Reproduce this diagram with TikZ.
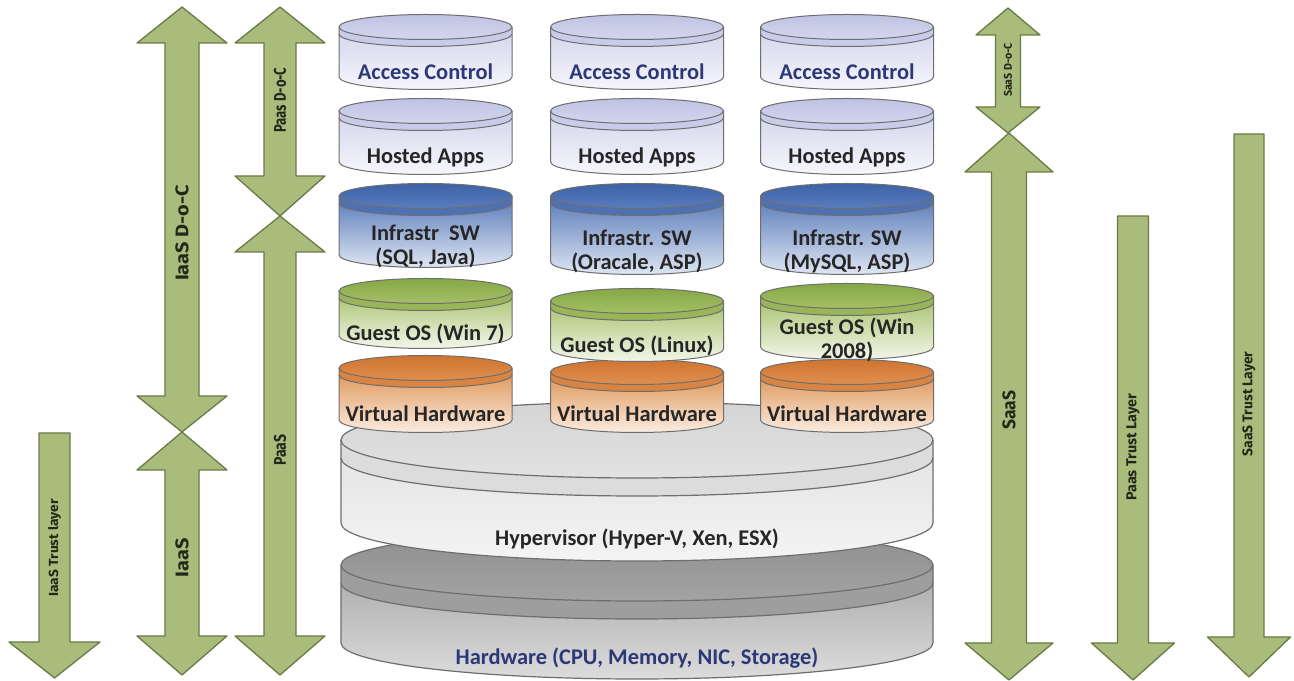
\documentclass[tikz,border=0pt]{standalone}
\usepackage{fontspec}
\usepackage{graphicx}
\setmainfont{Carlito}
\newfontfamily\arrowfont{Fira Sans}

% drum colours: F = top face, R = rim band, B = body
\definecolor{acF1}{HTML}{BFC3E3}\definecolor{acF2}{HTML}{D3D6EE}
\definecolor{acR}{HTML}{C9CCE8}\definecolor{acB1}{HTML}{D2D5EC}\definecolor{acB2}{HTML}{F6F6FB}
\definecolor{isF1}{HTML}{3C62A6}\definecolor{isF2}{HTML}{5A7DBD}
\definecolor{isR}{HTML}{4D71B3}\definecolor{isB1}{HTML}{5779B8}\definecolor{isB2}{HTML}{DFE6F3}
\definecolor{goF1}{HTML}{86A746}\definecolor{goF2}{HTML}{A4C065}
\definecolor{goR}{HTML}{98B558}\definecolor{goB1}{HTML}{A6C16A}\definecolor{goB2}{HTML}{F3F6EA}
\definecolor{vhF1}{HTML}{CF7430}\definecolor{vhF2}{HTML}{E08F4E}
\definecolor{vhR}{HTML}{D98442}\definecolor{vhB1}{HTML}{DE9252}\definecolor{vhB2}{HTML}{FBECE0}
\definecolor{hyF1}{HTML}{D4D4D4}\definecolor{hyF2}{HTML}{E2E2E2}
\definecolor{hyR}{HTML}{DCDCDC}\definecolor{hyB1}{HTML}{E2E2E2}\definecolor{hyB2}{HTML}{F4F4F4}
\definecolor{hwF1}{HTML}{8E8E8E}\definecolor{hwF2}{HTML}{A3A3A3}
\definecolor{hwR}{HTML}{9E9E9E}\definecolor{hwB1}{HTML}{A8A8A8}\definecolor{hwB2}{HTML}{DCDCDC}
\definecolor{drumedge}{HTML}{6E6E6E}
\definecolor{navytext}{HTML}{2C3878}
\definecolor{darktext}{HTML}{262626}
\definecolor{arrowgreen}{HTML}{A9BC7B}
\definecolor{arrowedge}{HTML}{6A7A45}
\definecolor{labeltext}{HTML}{24281A}

\tikzset{
  drumline/.style={draw=drumedge},
  greenarrow/.style={fill=arrowgreen, draw=arrowedge, line width=1.3bp, line join=round},
  drumtext/.style={font=\fontsize{22.5}{24}\selectfont\bfseries, text=darktext, inner sep=0pt, anchor=base},
  arlabel/.style={rotate=90, inner sep=0pt, text=labeltext, font=\arrowfont\bfseries},
}

% a drum: #1 colour prefix, #2 centre x, #3 top-face centre y, #4 bottom centre y
% (y measured from the top edge), #5 x radius, #6 y radius, #7 rim gap, #8 line width
\newcommand\drum[8]{%
  \pgfmathsetmacro\dT{681-#3}%
  \pgfmathsetmacro\dB{681-#4}%
  \pgfmathsetmacro\dL{#2-#5}%
  \pgfmathsetmacro\dR{#2+#5}%
  \pgfmathsetmacro\dM{681-#3-#7}%
  \path[top color=#1B1, bottom color=#1B2] (\dL,\dT) -- (\dL,\dB)
     arc[start angle=180, end angle=360, x radius=#5, y radius=#6] -- (\dR,\dT) -- cycle;
  \path[fill=#1R] (\dL,\dT) -- (\dL,\dM)
     arc[start angle=180, end angle=360, x radius=#5, y radius=#6] -- (\dR,\dT) -- cycle;
  \path[top color=#1F1, bottom color=#1F2] (#2,\dT) ellipse[x radius=#5, y radius=#6];
  \draw[drumline, line width=#8] (\dL,\dT) -- (\dL,\dB)
     arc[start angle=180, end angle=360, x radius=#5, y radius=#6] -- (\dR,\dT);
  \draw[drumline, line width=#8] (#2,\dT) ellipse[x radius=#5, y radius=#6];
  \draw[drumline, line width=#8] (\dL,\dM)
     arc[start angle=180, end angle=360, x radius=#5, y radius=#6];
}

% double-headed arrow: #1 centre x, #2 upper tip, #3 upper head base,
% #4 lower head base, #5 lower tip, #6 shaft half width, #7 head half width
\newcommand\dblarr[7]{%
  \pgfmathsetmacro\aA{681-#2}\pgfmathsetmacro\aB{681-#3}%
  \pgfmathsetmacro\aC{681-#4}\pgfmathsetmacro\aD{681-#5}%
  \pgfmathsetmacro\aL{#1-#6}\pgfmathsetmacro\aR{#1+#6}%
  \pgfmathsetmacro\aLL{#1-#7}\pgfmathsetmacro\aRR{#1+#7}%
  \draw[greenarrow] (#1,\aA) -- (\aRR,\aB) -- (\aR,\aB) -- (\aR,\aC) -- (\aRR,\aC)
     -- (#1,\aD) -- (\aLL,\aC) -- (\aL,\aC) -- (\aL,\aB) -- (\aLL,\aB) -- cycle;
}
% downward arrow: #1 centre x, #2 shaft top, #3 head base, #4 tip,
% #5 shaft half width, #6 head half width
\newcommand\dnarr[6]{%
  \pgfmathsetmacro\aA{681-#2}\pgfmathsetmacro\aB{681-#3}\pgfmathsetmacro\aC{681-#4}%
  \pgfmathsetmacro\aL{#1-#5}\pgfmathsetmacro\aR{#1+#5}%
  \pgfmathsetmacro\aLL{#1-#6}\pgfmathsetmacro\aRR{#1+#6}%
  \draw[greenarrow] (\aL,\aA) -- (\aR,\aA) -- (\aR,\aB) -- (\aRR,\aB) -- (#1,\aC)
     -- (\aLL,\aB) -- (\aL,\aB) -- cycle;
}
\newcommand\arfit[3]{\resizebox{#1bp}{#2bp}{#3}}

\begin{document}
\begin{tikzpicture}[x=1bp, y=1bp]
\useasboundingbox[fill=white] (0,0) rectangle (1294,681);

% ---- green scope arrows, left side
\dnarr{54.5}{433}{642}{678}{15.5}{45.5}
\dblarr{182}{7}{43}{396}{432}{17}{45}
\dblarr{182}{432}{470}{636}{675}{17}{45}
\dblarr{280}{7}{43}{176}{216}{16}{45}
\dblarr{280}{216}{252}{636}{675}{16}{45}

% ---- green scope arrows, right side
\dblarr{1008}{8}{35}{107}{133}{12.5}{32}
\dblarr{1009}{133}{172}{643}{680}{17.5}{44}
\dnarr{1133}{216}{643}{680}{15.5}{41.5}
\dnarr{1249}{134}{637}{677}{15}{41.5}

\node[arlabel] (lIaaSTrust) at (54.5,681-548) {\arfit{97}{10}{IaaS Trust layer}};
\node[arlabel] (lIaaSDoC)   at (182,681-233)  {\arfit{96}{13}{IaaS D-o-C}};
\node[arlabel] (lIaaS)      at (182,681-558)  {\arfit{39}{13}{IaaS}};
\node[arlabel] (lPaasDoC)   at (280,681-100)  {\arfit{65}{12}{Paas D-o-C}};
\node[arlabel] (lPaaS)      at (280,681-450)  {\arfit{31}{12}{PaaS}};
\node[arlabel] (lSaaSDoC)   at (1008,681-70)  {\arfit{54}{8}{SaaS D-o-C}};
\node[arlabel] (lSaaS)      at (1009,681-410) {\arfit{39}{13}{SaaS}};
\node[arlabel] (lPaasTrust) at (1133,681-447) {\arfit{107}{10}{Paas Trust Layer}};
\node[arlabel] (lSaaSTrust) at (1249,681-404) {\arfit{105}{10}{SaaS Trust Layer}};

% ---- physical layers
\drum{hw}{637}{565}{643}{296}{36}{18}{1.2bp}
\drum{hy}{637}{440}{523}{296}{38}{18}{1.2bp}

% ---- virtual machine stacks, bottom layer first
\drum{vh}{425.5}{368}{420}{86.5}{12.5}{7}{1bp}
\drum{vh}{637}{372}{420}{86.5}{12.5}{7}{1bp}
\drum{vh}{847}{372}{420}{86.5}{12.5}{7}{1bp}
\drum{go}{425.5}{291}{336}{86.5}{12.5}{7}{1bp}
\drum{go}{637}{301}{349}{86.5}{12.5}{7}{1bp}
\drum{go}{847}{296}{347}{86.5}{12.5}{7}{1bp}
\drum{is}{425.5}{196}{255}{86.5}{12.5}{7}{1bp}
\drum{is}{637}{196}{262}{86.5}{12.5}{7}{1bp}
\drum{is}{847}{196}{262}{86.5}{12.5}{7}{1bp}
\foreach \cx in {425.5,637,847}{
  \drum{ac}{\cx}{111}{162}{86.5}{12.5}{7}{1bp}
  \drum{ac}{\cx}{27}{77}{86.5}{12.5}{7}{1bp}
}

% ---- layer captions
\node[drumtext, text=navytext] (ac1) at (425.5,681-79.5) {Access Control};
\node[drumtext, text=navytext] (ac2) at (637,681-79.5)   {Access Control};
\node[drumtext, text=navytext] (ac3) at (847,681-79.5)   {Access Control};
\node[drumtext] (ha1) at (425.5,681-163.5) {Hosted Apps};
\node[drumtext] (ha2) at (637,681-163.5)   {Hosted Apps};
\node[drumtext] (ha3) at (847,681-163.5)   {Hosted Apps};
\node[drumtext] (is1a) at (425.5,681-241) {Infrastr\ \ SW};
\node[drumtext] (is1b) at (425.5,681-265) {(SQL, Java)};
\node[drumtext] (is2a) at (637,681-246)   {Infrastr. SW};
\node[drumtext] (is2b) at (637,681-270)   {(Oracale, ASP)};
\node[drumtext] (is3a) at (847,681-246)   {Infrastr. SW};
\node[drumtext] (is3b) at (847,681-270)   {(MySQL, ASP)};
\node[drumtext] (go1)  at (425.5,681-341) {Guest OS (Win 7)};
\node[drumtext] (go2)  at (637,681-353)   {Guest OS (Linux)};
\node[drumtext] (go3a) at (847,681-335) {Guest OS (Win};
\node[drumtext] (go3b) at (847,681-359)   {2008)};
\node[drumtext] (vh1) at (425.5,681-422) {Virtual Hardware};
\node[drumtext] (vh2) at (637,681-422)   {Virtual Hardware};
\node[drumtext] (vh3) at (847,681-422)   {Virtual Hardware};
\node[drumtext] (hyp) at (637,681-546) {Hypervisor (Hyper-V, Xen, ESX)};
\node[drumtext, text=navytext] (hwl) at (637,681-665) {Hardware (CPU, Memory, NIC, Storage)};
\end{tikzpicture}
\end{document}
